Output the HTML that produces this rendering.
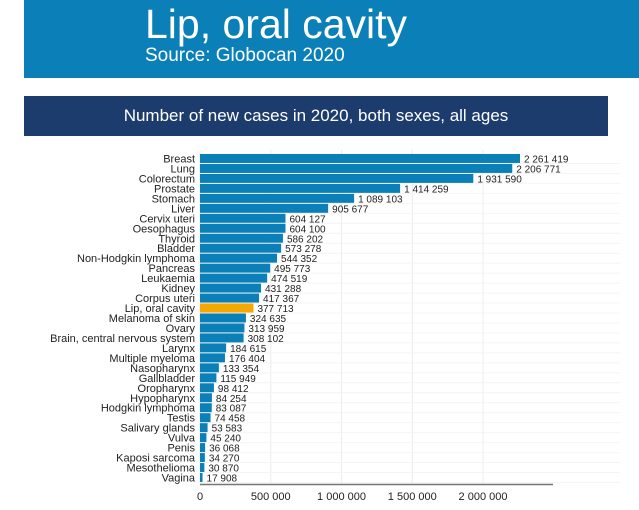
<!DOCTYPE html>
<html><head><meta charset="utf-8"><style>
body{margin:0;width:639px;height:510px;background:#fff;overflow:hidden;font-family:"Liberation Sans",sans-serif;position:relative}
#hdr{position:absolute;left:24px;top:0;width:615px;height:78px;background:#0b80b8}
#t1{position:absolute;left:121px;top:1px;font-size:41px;color:#fff}
#t2{position:absolute;left:121px;top:45px;font-size:19px;color:#fff}
#sub{position:absolute;left:24px;top:96px;width:584px;height:40px;background:#1d3c6e;color:#fff;font-size:17px;text-align:center;line-height:40px}
svg{position:absolute;left:0;top:0}
</style></head><body>
<div id="hdr">
<div id="t1">Lip, oral cavity</div>
<div id="t2">Source: Globocan 2020</div></div>
<div id="sub">Number of new cases in 2020, both sexes, all ages</div>
<svg id="c" width="639" height="510"></svg>
<script>
const categories=["Breast","Lung","Colorectum","Prostate","Stomach","Liver","Cervix uteri","Oesophagus","Thyroid","Bladder","Non-Hodgkin lymphoma","Pancreas","Leukaemia","Kidney","Corpus uteri","Lip, oral cavity","Melanoma of skin","Ovary","Brain, central nervous system","Larynx","Multiple myeloma","Nasopharynx","Gallbladder","Oropharynx","Hypopharynx","Hodgkin lymphoma","Testis","Salivary glands","Vulva","Penis","Kaposi sarcoma","Mesothelioma","Vagina"];
const values=[2261419,2206771,1931590,1414259,1089103,905677,604127,604100,586202,573278,544352,495773,474519,431288,417367,377713,324635,313959,308102,184615,176404,133354,115949,98412,84254,83087,74458,53583,45240,36068,34270,30870,17908];
const ticks=[0,500000,1000000,1500000,2000000];
const highlight="Lip, oral cavity";
const svg=document.getElementById('c'),NS="http://www.w3.org/2000/svg";
const x0=200,pxPer=141.5/1e6,y0=154,pitch=(478-159)/(categories.length-1);
const X=v=>x0+v*pxPer, Y=i=>y0+i*pitch;
function mk(t,a){const e=document.createElementNS(NS,t);for(const k in a)e.setAttribute(k,a[k]);svg.appendChild(e);return e;}
const fmt=v=>String(v).replace(/\B(?=(\d{3})+(?!\d))/g,' ');
ticks.forEach(t=>{const g=mk('line',{x1:X(t),x2:X(t),y1:150,y2:484,stroke:'#ececec','stroke-width':1});


const tl=mk('text',{x:X(t),y:500,'text-anchor':'middle','font-size':11,fill:'#222'});tl.textContent=fmt(t);

});
categories.forEach((c,i)=>{const y=Y(i);
const gl=mk('line',{x1:x0,x2:620,y1:y+pitch-0.5,y2:y+pitch-0.5,stroke:'#f4f4f4','stroke-width':1});


const r=mk('rect',{x:x0,y:y,width:X(values[i])-x0,height:pitch-1,fill:c===highlight?'#f6a800':'#0b80b8'});


const l=mk('text',{x:195,y:y+8.5,'text-anchor':'end','font-size':11,fill:'#222','font-family':'"Liberation Sans Narrow","Liberation Sans",sans-serif'});l.textContent=c;


const v=mk('text',{x:X(values[i])+4,y:y+8.5,'font-size':10,fill:'#222','font-family':'"Liberation Sans Narrow","Liberation Sans",sans-serif'});v.textContent=fmt(values[i]);

});
const ax=mk('line',{x1:x0,x2:553,y1:484.5,y2:484.5,stroke:'#777','stroke-width':1.5});


</script>
</body></html>
